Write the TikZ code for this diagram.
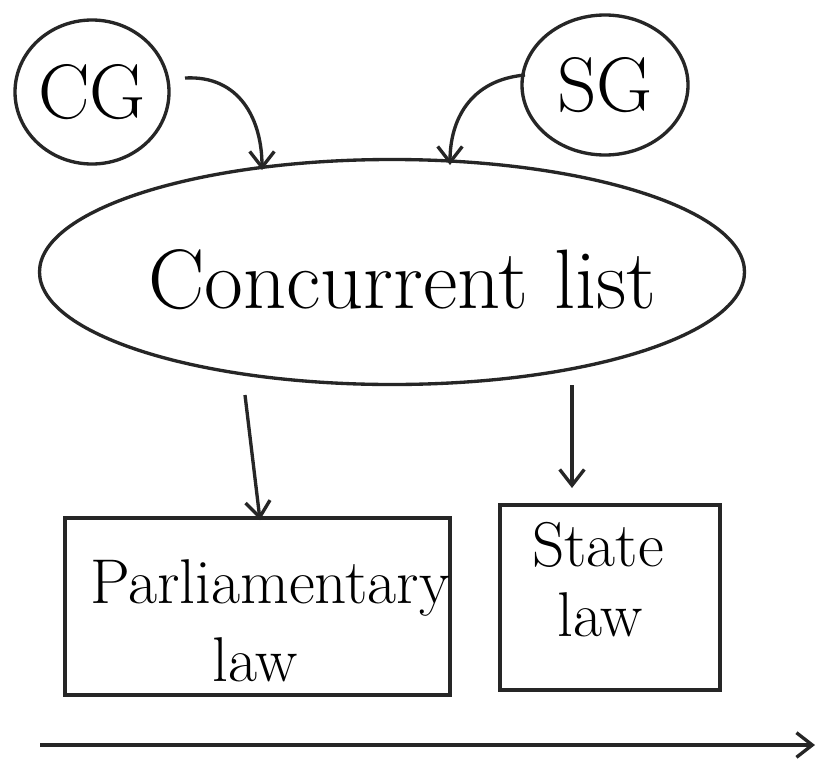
\documentclass[tikz,border=0pt]{standalone}
\usetikzlibrary{arrows.meta,shapes.geometric}
\begin{document}
\begin{tikzpicture}[
  ink/.style={line width=1.9pt, draw=black!85},
  bubble/.style={ink, ellipse, inner sep=0pt},
  lawbox/.style={ink, rectangle, inner sep=0pt},
  conn/.style={ink, -{Straight Barb[length=9pt,width=14pt,line width=1.9pt]}},
  bigtxt/.style={font=\fontsize{48}{56}\selectfont, inner sep=0pt},
  midtxt/.style={font=\fontsize{36}{42}\selectfont, inner sep=0pt},
]
\useasboundingbox (0,0) rectangle (16.46,-15.24);
\fill[white] (0,0) rectangle (16.46,-15.24);

\node[bubble, minimum width=3.08cm, minimum height=2.88cm, font=\fontsize{44}{52}\selectfont] (cg) at (1.84,-1.84) {CG};
\node[bubble, minimum width=3.32cm, minimum height=2.8cm, font=\fontsize{44}{52}\selectfont] (sg) at (12.1,-1.7) {SG};
\node[bubble, minimum width=14.1cm, minimum height=4.5cm] (list) at (7.84,-5.44) {};
\node[bigtxt] (listtxt) at (8.05,-5.6) {Concurrent list};

\node[lawbox, minimum width=7.7cm, minimum height=3.54cm] (parl) at (5.15,-12.13) {};
\node[midtxt] (parltxt) at (5.4,-11.75) {Parliamentary};
\node[midtxt] (parllaw) at (5.1,-13.2) {law};

\node[lawbox, minimum width=4.4cm, minimum height=3.7cm] (state) at (12.2,-11.95) {};
\node[midtxt] (statetxt) at (11.96,-10.9) {State};
\node[midtxt] (statelaw) at (12.0,-12.3) {law};

\coordinate (cgout) at (3.7,-1.56);
\coordinate (cgin) at (5.24,-3.4);
\coordinate (sgout) at (10.5,-1.5);
\coordinate (sgin) at (9.0,-3.3);
\coordinate (d1a) at (4.9,-7.9);
\coordinate (d1b) at (5.2,-10.4);
\coordinate (d2a) at (11.44,-7.7);
\coordinate (d2b) at (11.44,-9.76);
\coordinate (axa) at (0.8,-14.9);
\coordinate (axb) at (16.3,-14.9);

\draw[conn] (cgout) .. controls (4.8,-1.5) and (5.24,-2.4) .. (cgin);
\draw[conn] (sgout) .. controls (9.4,-1.6) and (9.0,-2.4) .. (sgin);
\draw[conn] (d1a) -- (d1b);
\draw[conn] (d2a) -- (d2b);
\draw[conn] (axa) -- (axb);
\end{tikzpicture}
\end{document}
